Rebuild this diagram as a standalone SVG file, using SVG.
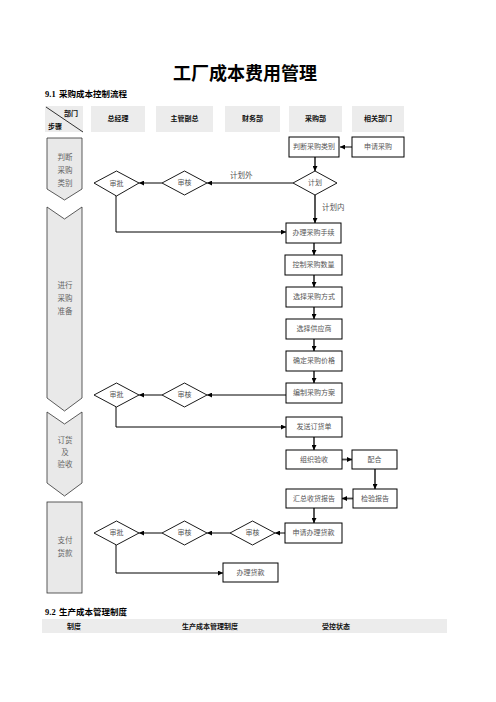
<svg xmlns="http://www.w3.org/2000/svg" width="496" height="702" viewBox="0 0 496 702">
  <defs>
    <marker id="arr" viewBox="0 0 10 10" refX="10" refY="5" markerWidth="5" markerHeight="5" orient="auto" markerUnits="userSpaceOnUse">
      <path d="M0,0 L10,5 L0,10 z" fill="#000"/>
    </marker>
    <style>
      .cjk { font-family: "Liberation Serif", "Noto Sans CJK SC", serif; }
      .title { font-size: 18px; font-weight: bold; fill: #000; }
      .sec { font-size: 8.5px; font-weight: bold; fill: #000; }
      .hdr { font-size: 7px; font-weight: bold; fill: #111; text-anchor: middle; }
      .hdrbox { fill: #ececec; stroke: none; }
      .step { fill: #e9e9e9; stroke: #333; stroke-width: 0.8; }
      .steptxt { font-size: 7.5px; fill: #666; text-anchor: middle; }
      .box { fill: #fff; stroke: #000; stroke-width: 1; }
      .dia { fill: #fff; stroke: #000; stroke-width: 0.9; }
      .lbl { font-size: 7px; fill: #555; text-anchor: middle; dominant-baseline: central; }
      .note { font-size: 7.5px; fill: #555; }
      .ln { fill: none; stroke: #000; stroke-width: 1; }
      .vln { fill: none; stroke: #444; stroke-width: 1.8; }
    </style>
  </defs>

  <!-- title and section heading -->
  <text class="cjk title" x="245" y="80" text-anchor="middle">工厂成本费用管理</text>
  <text class="cjk sec" x="45" y="97">9.1<tspan x="59">采购成本控制流程</tspan></text>

  <!-- header row -->
  <g id="header">
    <rect class="hdrbox" x="45" y="106" width="38" height="26"/>
    <line x1="46" y1="107" x2="83" y2="132" stroke="#000" stroke-width="0.8"/>
    <text class="cjk hdr" x="71" y="116">部门</text>
    <text class="cjk hdr" x="55" y="129">步骤</text>
    <rect class="hdrbox" x="91" y="106" width="54" height="26"/>
    <text class="cjk hdr" x="118" y="121">总经理</text>
    <rect class="hdrbox" x="156" y="106" width="57" height="26"/>
    <text class="cjk hdr" x="184.5" y="121">主管副总</text>
    <rect class="hdrbox" x="225" y="106" width="55" height="26"/>
    <text class="cjk hdr" x="252.5" y="121">财务部</text>
    <rect class="hdrbox" x="289" y="106" width="53" height="26"/>
    <text class="cjk hdr" x="315.5" y="121">采购部</text>
    <rect class="hdrbox" x="352" y="106" width="52" height="26"/>
    <text class="cjk hdr" x="378" y="121">相关部门</text>
  </g>

  <!-- step column -->
  <g id="step1">
    <path class="step" d="M47,138 H82 V189 L64.5,200 L47,189 Z"/>
    <text class="cjk steptxt" x="65" y="160">判断</text>
    <text class="cjk steptxt" x="65" y="173">采购</text>
    <text class="cjk steptxt" x="65" y="186">类别</text>
  </g>
  <g id="step2">
    <path class="step" d="M47,207 L64.5,219 L82,207 V398 L64.5,411 L47,398 Z"/>
    <text class="cjk steptxt" x="65" y="288">进行</text>
    <text class="cjk steptxt" x="65" y="301">采购</text>
    <text class="cjk steptxt" x="65" y="314">准备</text>
  </g>
  <g id="step3">
    <path class="step" d="M47,412 L64.5,424 L82,412 V483 L64.5,496 L47,483 Z"/>
    <text class="cjk steptxt" x="65" y="443">订货</text>
    <text class="cjk steptxt" x="65" y="455">及</text>
    <text class="cjk steptxt" x="65" y="467">验收</text>
  </g>
  <g id="step4">
    <rect class="step" x="47" y="502" width="35" height="91"/>
    <text class="cjk steptxt" x="65" y="543">支付</text>
    <text class="cjk steptxt" x="65" y="556">货款</text>
  </g>

  <!-- connectors -->
  <g id="connectors">
    <line class="ln" x1="352" y1="147" x2="340" y2="147" marker-end="url(#arr)"/>
    <line class="vln" x1="315" y1="157" x2="315" y2="171" marker-end="url(#arr)"/>
    <line class="ln" x1="293" y1="183" x2="207" y2="183" marker-end="url(#arr)"/>
    <line class="ln" x1="162" y1="183" x2="139" y2="183" marker-end="url(#arr)"/>
    <polyline class="ln" points="116,195 116,232 286,232" marker-end="url(#arr)"/>
    <line class="vln" x1="315" y1="195" x2="315" y2="223" marker-end="url(#arr)"/>
    <line class="vln" x1="314" y1="243" x2="314" y2="255" marker-end="url(#arr)"/>
    <line class="vln" x1="314" y1="275" x2="314" y2="287" marker-end="url(#arr)"/>
    <line class="vln" x1="314" y1="307" x2="314" y2="319" marker-end="url(#arr)"/>
    <line class="vln" x1="314" y1="339" x2="314" y2="351" marker-end="url(#arr)"/>
    <line class="vln" x1="314" y1="371" x2="314" y2="383" marker-end="url(#arr)"/>
    <line class="ln" x1="286" y1="395" x2="207" y2="395" marker-end="url(#arr)"/>
    <line class="ln" x1="162" y1="395" x2="139" y2="395" marker-end="url(#arr)"/>
    <polyline class="ln" points="116,407 116,427 286,427" marker-end="url(#arr)"/>
    <line class="vln" x1="314" y1="437" x2="314" y2="450" marker-end="url(#arr)"/>
    <line class="vln" x1="342" y1="459.5" x2="352" y2="459.5" marker-end="url(#arr)"/>
    <line class="vln" x1="375" y1="469" x2="375" y2="489" marker-end="url(#arr)"/>
    <line class="vln" x1="353" y1="498.5" x2="342" y2="498.5" marker-end="url(#arr)"/>
    <line class="vln" x1="314" y1="508" x2="314" y2="523" marker-end="url(#arr)"/>
    <line class="ln" x1="285" y1="533" x2="275" y2="533" marker-end="url(#arr)"/>
    <line class="ln" x1="230" y1="533" x2="207" y2="533" marker-end="url(#arr)"/>
    <line class="ln" x1="162" y1="533" x2="139" y2="533" marker-end="url(#arr)"/>
    <polyline class="ln" points="116,545 116,573 223,573" marker-end="url(#arr)"/>
    <text class="cjk note" x="230" y="178">计划外</text>
    <text class="cjk note" x="322" y="210">计划内</text>
  </g>

  <!-- flow nodes -->
  <g id="n-judge">
    <rect class="box" x="289" y="137" width="50" height="20"/>
    <text class="cjk lbl" x="314" y="147">判断采购类别</text>
  </g>
  <g id="n-apply">
    <rect class="box" x="352" y="137" width="52" height="20"/>
    <text class="cjk lbl" x="378" y="147">申请采购</text>
  </g>
  <g id="n-plan">
    <polygon class="dia" points="293,183 315,171 337,183 315,195"/>
    <text class="cjk lbl" x="315" y="183">计划</text>
  </g>
  <g id="n-review1">
    <polygon class="dia" points="162,183 184.5,171 207,183 184.5,195"/>
    <text class="cjk lbl" x="184.5" y="183">审核</text>
  </g>
  <g id="n-approve1">
    <polygon class="dia" points="94,183 116.5,171 139,183 116.5,196"/>
    <text class="cjk lbl" x="116.5" y="184">审批</text>
  </g>
  <g id="n-proc">
    <rect class="box" x="286" y="223" width="55" height="20"/>
    <text class="cjk lbl" x="313.5" y="233">办理采购手续</text>
  </g>
  <g id="n-qty">
    <rect class="box" x="285" y="255" width="57" height="20"/>
    <text class="cjk lbl" x="313.5" y="265">控制采购数量</text>
  </g>
  <g id="n-mode">
    <rect class="box" x="286" y="287" width="56" height="20"/>
    <text class="cjk lbl" x="314" y="297">选择采购方式</text>
  </g>
  <g id="n-supplier">
    <rect class="box" x="286" y="319" width="56" height="20"/>
    <text class="cjk lbl" x="314" y="329">选择供应商</text>
  </g>
  <g id="n-price">
    <rect class="box" x="286" y="351" width="56" height="20"/>
    <text class="cjk lbl" x="314" y="361">确定采购价格</text>
  </g>
  <g id="n-planning">
    <rect class="box" x="286" y="383" width="56" height="20"/>
    <text class="cjk lbl" x="314" y="393">编制采购方案</text>
  </g>
  <g id="n-review2">
    <polygon class="dia" points="162,395 184.5,383 207,395 184.5,407"/>
    <text class="cjk lbl" x="184.5" y="395">审核</text>
  </g>
  <g id="n-approve2">
    <polygon class="dia" points="94,395 116.5,383 139,395 116.5,407"/>
    <text class="cjk lbl" x="116.5" y="395">审批</text>
  </g>
  <g id="n-order">
    <rect class="box" x="286" y="417" width="56" height="20"/>
    <text class="cjk lbl" x="314" y="427">发送订货单</text>
  </g>
  <g id="n-accept">
    <rect class="box" x="286" y="450" width="56" height="19"/>
    <text class="cjk lbl" x="314" y="459.5">组织验收</text>
  </g>
  <g id="n-assist">
    <rect class="box" x="352" y="450" width="45" height="19"/>
    <text class="cjk lbl" x="374.5" y="459.5">配合</text>
  </g>
  <g id="n-inspect">
    <rect class="box" x="353" y="489" width="44" height="19"/>
    <text class="cjk lbl" x="375" y="498.5">检验报告</text>
  </g>
  <g id="n-summary">
    <rect class="box" x="286" y="489" width="56" height="19"/>
    <text class="cjk lbl" x="314" y="498.5">汇总收货报告</text>
  </g>
  <g id="n-payreq">
    <rect class="box" x="285" y="523" width="57" height="20"/>
    <text class="cjk lbl" x="313.5" y="533">申请办理货款</text>
  </g>
  <g id="n-review3">
    <polygon class="dia" points="230,533 252.5,521 275,533 252.5,545"/>
    <text class="cjk lbl" x="252.5" y="533">审核</text>
  </g>
  <g id="n-review4">
    <polygon class="dia" points="162,533 184.5,521 207,533 184.5,545"/>
    <text class="cjk lbl" x="184.5" y="533">审核</text>
  </g>
  <g id="n-approve3">
    <polygon class="dia" points="94,533 116.5,521 139,533 116.5,545"/>
    <text class="cjk lbl" x="116.5" y="533">审批</text>
  </g>
  <g id="n-pay">
    <rect class="box" x="223" y="563" width="55" height="19"/>
    <text class="cjk lbl" x="250.5" y="572.5">办理货款</text>
  </g>

  <!-- section 9.2 -->
  <text class="cjk sec" x="45" y="615">9.2<tspan x="59">生产成本管理制度</tspan></text>
  <g id="table">
    <rect x="42" y="619" width="405" height="14" fill="#ececec"/>
    <text class="cjk hdr" x="74" y="629">制度</text>
    <text class="cjk hdr" x="210" y="629">生产成本管理制度</text>
    <text class="cjk hdr" x="336" y="629">受控状态</text>
  </g>
</svg>
